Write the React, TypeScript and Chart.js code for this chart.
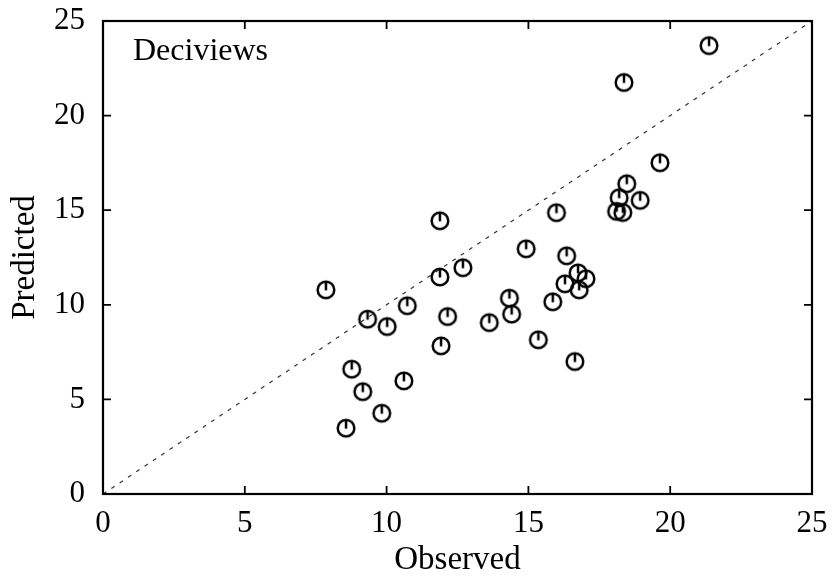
import React, { useEffect, useRef } from "react";
import { Chart, registerables } from "chart.js";

Chart.register(...registerables);

const observed = [
  21.37, 18.37, 19.64, 18.47, 18.94, 18.2, 18.11, 18.33, 15.99, 11.88,
  14.92, 16.35, 12.69, 11.88, 16.75, 17.03, 16.29, 16.79, 7.86, 14.33,
  15.86, 10.73, 10.02, 9.33, 12.15, 14.41, 13.62, 15.35, 11.92, 8.77,
  16.64, 10.61, 9.16, 9.83, 8.57,
];
const predicted = [
  23.7, 21.75, 17.51, 16.4, 15.52, 15.66, 14.94, 14.88, 14.87, 14.44,
  12.96, 12.59, 11.96, 11.47, 11.69, 11.38, 11.11, 10.79, 10.79, 10.35,
  10.16, 9.95, 8.85, 9.24, 9.38, 9.51, 9.06, 8.15, 7.83, 6.6,
  7.0, 5.98, 5.41, 4.27, 3.48,
];
const refLine = [0, 25];
const tickValues = [0, 5, 10, 15, 20, 25];
const xTitle = "Observed";
const yTitle = "Predicted";
const panelLabel = "Deciviews";

const FONT = "'Liberation Serif', 'DejaVu Serif', serif";

function makeMarker(): HTMLCanvasElement {
  const c = document.createElement("canvas");
  c.width = 24;
  c.height = 24;
  const ctx = c.getContext("2d")!;
  ctx.strokeStyle = "#000";
  ctx.lineWidth = 2.5;
  ctx.beginPath();
  ctx.arc(12, 12, 8.3, 0, Math.PI * 2);
  ctx.stroke();
  ctx.beginPath();
  ctx.moveTo(12, 12.5);
  ctx.lineTo(12, 4);
  ctx.stroke();
  return c;
}

const framePlugin = {
  id: "frame",
  afterDatasetsDraw(chart: any) {
    const { ctx, chartArea, scales } = chart;
    const { left, right, top, bottom } = chartArea;
    ctx.save();
    ctx.strokeStyle = "#000";
    ctx.lineWidth = 2.2;
    ctx.strokeRect(left, top, right - left, bottom - top);
    const len = 8;
    ctx.lineWidth = 1.8;
    tickValues.forEach((v) => {
      const x = scales.x.getPixelForValue(v);
      const y = scales.y.getPixelForValue(v);
      ctx.beginPath();
      ctx.moveTo(x, bottom);
      ctx.lineTo(x, bottom - len);
      ctx.moveTo(x, top);
      ctx.lineTo(x, top + len);
      ctx.moveTo(left, y);
      ctx.lineTo(left + len, y);
      ctx.moveTo(right, y);
      ctx.lineTo(right - len, y);
      ctx.stroke();
    });
    ctx.fillStyle = "#000";
    ctx.font = `32px ${FONT}`;
    ctx.textBaseline = "middle";
    ctx.textAlign = "left";
    ctx.fillText(panelLabel, left + 30, top + 31);
    ctx.restore();
  },
};

export default function App() {
  const ref = useRef<HTMLCanvasElement>(null);
  useEffect(() => {
    document.body.style.margin = "0";
    const marker = makeMarker();
    const chart = new Chart(ref.current!, {
      type: "scatter",
      data: {
        datasets: [
          {
            label: "ref",
            data: refLine.map((v) => ({ x: v, y: v })),
            showLine: true,
            borderColor: "#333",
            borderWidth: 1.2,
            borderDash: [4, 6],
            pointRadius: 0,
          },
          {
            label: panelLabel,
            data: observed.map((x, i) => ({ x, y: predicted[i] })),
            pointStyle: marker as any,
            pointRadius: 9,
          },
        ],
      },
      plugins: [framePlugin],
      options: {
        animation: false,
        responsive: false,
        layout: { padding: { left: 0, top: 21, right: 24, bottom: 0 } },
        plugins: { legend: { display: false }, tooltip: { enabled: false } },
        scales: {
          x: {
            type: "linear",
            min: 0,
            max: 25,
            afterBuildTicks: (s: any) => {
              s.ticks = tickValues.map((v) => ({ value: v }));
            },
            grid: { display: false, drawTicks: false },
            border: { display: false },
            ticks: {
              color: "#000",
              font: { family: FONT, size: 31 },
              padding: 11,
            },
            title: {
              display: true,
              text: xTitle,
              color: "#000",
              font: { family: FONT, size: 33 },
              padding: { top: -6, bottom: 0 },
            },
            afterFit: (s: any) => {
              s.height = 86;
              s.paddingLeft = 0;
              s.paddingRight = 0;
            },
          },
          y: {
            type: "linear",
            min: 0,
            max: 25,
            afterBuildTicks: (s: any) => {
              s.ticks = tickValues.map((v) => ({ value: v }));
            },
            grid: { display: false, drawTicks: false },
            border: { display: false },
            ticks: {
              color: "#000",
              font: { family: FONT, size: 31 },
              padding: 18,
            },
            title: {
              display: true,
              text: yTitle,
              color: "#000",
              font: { family: FONT, size: 33 },
              padding: { top: 6, bottom: 0 },
            },
            afterFit: (s: any) => {
              s.width = 103;
              s.paddingTop = 0;
              s.paddingBottom = 0;
            },
          },
        },
      },
    });
    return () => chart.destroy();
  }, []);
  return (
    <div style={{ width: 836, height: 580 }}>
      <canvas ref={ref} width={836} height={580} style={{ display: "block" }} />
    </div>
  );
}
